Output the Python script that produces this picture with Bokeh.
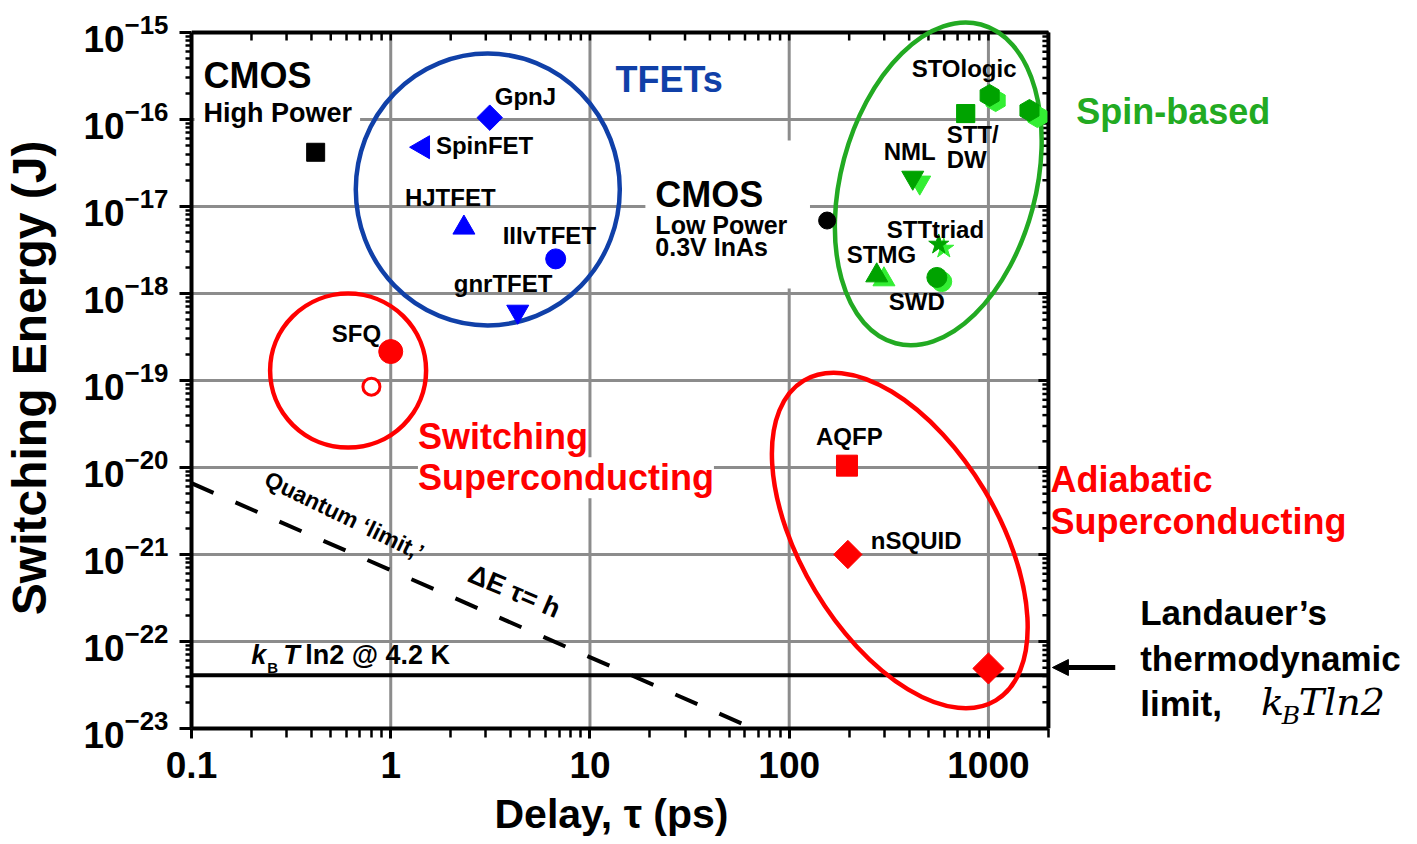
from bokeh.plotting import figure
from bokeh.models import (Range1d, FixedTicker, Label, Arrow, NormalHead, Title,
                          CustomJSTickFormatter, LogTickFormatter, ColumnDataSource)
from bokeh.embed import file_html
from bokeh.resources import INLINE

# ---------------- data ----------------
x_ticks = [0.1, 1, 10, 100, 1000]
y_exponents = [-15, -16, -17, -18, -19, -20, -21, -22, -23]
x_lim = [0.1, 2000]
y_lim = [1e-23, 1e-15]

cmos_delay = [0.42, 155]
cmos_energy = [4.2e-17, 6.9e-18]

tfet_names = ["GpnJ", "SpinFET", "HJTFET", "IIIvTFET", "gnrTFET"]
tfet_delay = [3.14, 1.45, 2.33, 6.73, 4.34]
tfet_energy = [1.05e-16, 4.8e-17, 5.7e-18, 2.5e-18, 6.2e-19]

sfq_delay = [1.0, 0.8]
sfq_energy = [2.15e-19, 8.5e-20]

adia_names = ["AQFP", "nSQUID", ""]
adia_delay = [195, 197, 1000]
adia_energy = [1.05e-20, 1.0e-21, 4.9e-23]

spin_names = ["STOlogic", "STT/", "", "NML", "STTtriad", "STMG", "SWD"]
spin_delay = [1014, 769, 1607, 417, 563, 275, 551]
spin_energy = [1.89e-16, 1.17e-16, 1.27e-16, 2.15e-17, 3.66e-18, 1.61e-18, 1.53e-18]
spin_delay_b = [1087, 769, 1762, 452, 597, 299, 583]
spin_energy_b = [1.65e-16, 1.17e-16, 1.08e-16, 1.89e-17, 3.29e-18, 1.45e-18, 1.37e-18]

quantum_delay = [0.1, 60]
quantum_energy = [6.6e-21, 1.1e-23]
kbt_delay = [0.1, 2000]
kbt_energy = [4.1e-23, 4.1e-23]

# group outlines (centres in data units)
grp_x = [3.07, 0.611, 560, 359]
grp_y = [1.57e-17, 1.30e-19, 1.82e-17, 1.45e-21]

# ---------------- styles ----------------
FONT = "Liberation Sans"
BLUE_M = "#0000ff"
BLUE_C = "#1040a8"
RED = "#ff0000"
GREEN_C = "#22aa22"
GREEN_D = "#00a300"
GREEN_B = "#33ee33"
GRID = "#8c8c8c"

grp_w = [264, 156, 330, 373]
grp_h = [272, 154, 195, 197]
grp_ang = [0, 0, 75, -59]
grp_col = [BLUE_C, RED, GREEN_C, RED]

tfet_marker = ["square", "triangle", "triangle", "circle", "inverted_triangle"]
tfet_size = [18, 23, 22, 20, 22]
tfet_angle = [45, 90, 0, 0, 0]
tfet_dx = [5, 13, -59, -53, -64]
tfet_dy = [14, -5, 23, 16, 21]

adia_marker = ["square", "square", "square"]
adia_size = [21, 20, 22]
adia_angle = [0, 45, 45]
adia_dx = [-31, 23, 0]
adia_dy = [22, 7, 0]

spin_marker = ["hex", "square", "hex", "inverted_triangle", "star", "triangle", "circle"]
spin_size = [22, 18, 22, 22, 21, 22, 20]
spin_angle = [90, 0, 90, 0, 0, 0, 0]
spin_dx = [-78, -19, 0, -29, -52, -30, -48]
spin_dy = [20, -28, 0, 19, 8, 14, -31]

# page geometry of the reference plot box
FX0, FX1, FY0, FY1 = 188, 1047, 32, 728
W, H = 1417, 844
PX_DEC_X = (FX1 - FX0) / 4.30103   # pixels per decade (x)
PX_DEC_Y = (FY1 - FY0) / 8.0        # pixels per decade (y)
BASE_FIX = 0.3                      # label baseline correction (fraction of font size)


def px2x(px):
    return 10 ** (-1 + (px - FX0) / PX_DEC_X)


def py2y(py):
    return 10 ** (-15 - (py - FY0) / PX_DEC_Y)


# frame extends to the right and top canvas edges so captions there are not clipped
p = figure(width=W, height=H, x_axis_type="log", y_axis_type="log", title=None,
           x_range=Range1d(0.1, px2x(W)), y_range=Range1d(1e-23, py2y(0)),
           output_backend="svg", toolbar_location=None,
           min_border_left=FX0, min_border_right=0, min_border_top=0,
           min_border_bottom=H - FY1)
p.background_fill_color = "white"
p.border_fill_color = "white"
p.outline_line_color = None
p.grid.visible = False

x_minor = [m * 10 ** e for e in range(-1, 4) for m in range(2, 10) if m * 10 ** e <= 2000]
y_major = [10.0 ** e for e in y_exponents]
y_minor = [m * 10.0 ** e for e in range(-23, -15) for m in range(2, 10)]
xticker = FixedTicker(ticks=x_ticks, minor_ticks=x_minor)
yticker = FixedTicker(ticks=y_major, minor_ticks=y_minor)

xa = p.xaxis[0]
ya = p.yaxis[0]
xa.ticker = xticker
ya.ticker = yticker
xa.bounds = (0.1, 2000)
ya.bounds = (1e-23, 1e-15)
xa.formatter = CustomJSTickFormatter(code="return tick.toString()")
ya.formatter = LogTickFormatter()
for ax in (xa, ya):
    ax.axis_line_width = 4
    ax.major_tick_line_width = 3
    ax.minor_tick_line_width = 2.5
    ax.major_tick_in = 0
    ax.minor_tick_in = 0
    ax.major_label_text_font = FONT
    ax.major_label_text_font_style = "bold"
    ax.major_label_text_font_size = "37px"
    ax.major_label_text_color = "black"
    ax.axis_label_text_font = FONT
    ax.axis_label_text_font_style = "bold"
    ax.axis_label_text_color = "black"
xa.major_tick_out = 10
xa.minor_tick_out = 9
xa.major_label_standoff = 13
ya.major_tick_out = 12
ya.minor_tick_out = 6
ya.major_label_standoff = 11
ya.axis_label = "Switching Energy (J)\u00a0\u00a0"
ya.axis_label_text_font_size = "48px"
ya.axis_label_standoff = 24

p.add_layout(Title(text="Delay, τ (ps)", align="left", offset=303, standoff=16,
                   text_font=FONT, text_font_size="41px", text_font_style="bold",
                   text_color="black"), "below")

# grid lines (limited to the plot box)
p.segment(x0=x_ticks[1:], x1=x_ticks[1:], y0=[y_lim[0]] * 4, y1=[y_lim[1]] * 4,
          line_color=GRID, line_width=3)
p.segment(x0=[x_lim[0]] * 9, x1=[x_lim[1]] * 9, y0=y_major, y1=y_major,
          line_color=GRID, line_width=3)

# top and right borders with inward ticks
p.segment(x0=[x_lim[0], x_lim[1]], x1=[x_lim[1], x_lim[1]], y0=[y_lim[1], y_lim[0]],
          y1=[y_lim[1], y_lim[1]], line_color="black", line_width=4)
p.ray(x=x_ticks + x_minor, y=[y_lim[1]] * (len(x_ticks) + len(x_minor)), length=8,
      length_units="screen", angle=-90, angle_units="deg", line_color="black", line_width=2.5)
p.ray(x=[x_lim[1]] * 9, y=y_major, length=10, length_units="screen", angle=180,
      angle_units="deg", line_color="black", line_width=3)
p.ray(x=[x_lim[1]] * len(y_minor), y=y_minor, length=6, length_units="screen", angle=180,
      angle_units="deg", line_color="black", line_width=2.5)

# white boxes behind the CMOS captions
for l_, r_, t_, b_ in ((191, 357, 110, 128), (643, 808, 140, 288)):
    p.quad(left=[px2x(l_)], right=[px2x(r_)], top=[py2y(t_)], bottom=[py2y(b_)],
           fill_color="white", line_alpha=0)

# lines
p.line(kbt_delay, kbt_energy, line_color="black", line_width=4)
p.line(quantum_delay, quantum_energy, line_color="black", line_width=4, line_dash="24 24")

# group ellipses
p.ellipse(x=grp_x, y=grp_y, width=grp_w, height=grp_h, angle=grp_ang, angle_units="deg",
          width_units="screen", height_units="screen", fill_alpha=0,
          line_color=grp_col, line_width=4.5)

# markers
p.scatter(cmos_delay[:1], cmos_energy[:1], marker="square", size=18, color="black")
p.scatter(cmos_delay[1:], cmos_energy[1:], marker="circle", size=17, color="black")

p.scatter(x="x", y="y", marker="m", size="s", angle="a", angle_units="deg", color=BLUE_M,
          source=ColumnDataSource(dict(x=tfet_delay, y=tfet_energy, m=tfet_marker,
                                       s=tfet_size, a=tfet_angle)))

p.scatter(sfq_delay[:1], sfq_energy[:1], marker="circle", size=24, color=RED)
p.scatter(sfq_delay[1:], sfq_energy[1:], marker="circle", size=17, fill_color="white",
          line_color=RED, line_width=3)

p.scatter(x="x", y="y", marker="m", size="s", angle="a", angle_units="deg", color=RED,
          source=ColumnDataSource(dict(x=adia_delay, y=adia_energy, m=adia_marker,
                                       s=adia_size, a=adia_angle)))

p.scatter(x="x", y="y", marker="m", size="s", angle="a", angle_units="deg", color=GREEN_B,
          source=ColumnDataSource(dict(x=spin_delay_b, y=spin_energy_b, m=spin_marker,
                                       s=spin_size, a=spin_angle)))
p.scatter(x="x", y="y", marker="m", size="s", angle="a", angle_units="deg", color=GREEN_D,
          source=ColumnDataSource(dict(x=spin_delay, y=spin_energy, m=spin_marker,
                                       s=spin_size, a=spin_angle)))


def lab(text, x, y, size, color="black", style="bold", font=FONT, align="left",
        dx=0, dy=0, angle=0, bg=None):
    kw = {}
    if bg is not None:
        kw["background_fill_color"] = bg
    p.add_layout(Label(x=x, y=y, text=text, x_offset=dx, y_offset=dy + BASE_FIX * size,
                       text_font=font, text_font_size=f"{size}px", text_font_style=style,
                       text_color=color, text_align=align, text_baseline="alphabetic",
                       angle=angle, angle_units="deg", **kw))


# point labels
for n, x, y, dx, dy in zip(tfet_names, tfet_delay, tfet_energy, tfet_dx, tfet_dy):
    lab(n, x, y, 24, dx=dx, dy=dy)
lab("SFQ", sfq_delay[0], sfq_energy[0], 24, dx=-59, dy=11)
for n, x, y, dx, dy in zip(adia_names, adia_delay, adia_energy, adia_dx, adia_dy):
    if n:
        lab(n, x, y, 24, dx=dx, dy=dy)
for n, x, y, dx, dy in zip(spin_names, spin_delay, spin_energy, spin_dx, spin_dy):
    if n:
        lab(n, x, y, 24, dx=dx, dy=dy)
lab("DW", spin_delay[1], spin_energy[1], 24, dx=-19, dy=-53)

# captions inside
lab("CMOS", px2x(200), py2y(86), 36)
lab("High Power", px2x(200), py2y(121), 27)
lab("CMOS", px2x(653), py2y(205), 36)
lab("Low Power", px2x(653), py2y(232), 25)
lab("0.3V InAs", px2x(653), py2y(254), 25)
lab("TFETs", px2x(613), py2y(90), 36, color=BLUE_C)
lab("Switching", px2x(415), py2y(447), 36, color=RED)
lab("Superconducting", px2x(415), py2y(488), 36, color=RED, bg="white")
lab("Quantum ‘limit,’", px2x(263), py2y(484), 23, angle=-26)
lab("ΔE τ= h", px2x(467), py2y(580), 27, angle=-23)
lab("k", px2x(248), py2y(663), 27, style="bold italic")
lab("B", px2x(264), py2y(671), 15)
lab("T", px2x(280), py2y(663), 27, style="bold italic")
lab("ln2 @ 4.2 K", px2x(302), py2y(663), 27)

# captions at the right
lab("Spin-based", px2x(1075), py2y(122), 36, color=GREEN_C)
lab("Adiabatic", px2x(1049), py2y(490), 36, color=RED)
lab("Superconducting", px2x(1049), py2y(532), 36, color=RED)
lab("Landauer’s", px2x(1139), py2y(622), 35)
lab("thermodynamic", px2x(1139), py2y(668), 35)
lab("limit,", px2x(1139), py2y(713), 35)
lab("k", px2x(1260), py2y(713), 38, style="italic", font="DejaVu Serif")
lab("B", px2x(1281), py2y(722), 25, style="italic", font="DejaVu Serif")
lab("Tln2", px2x(1298), py2y(713), 38, style="italic", font="DejaVu Serif")

p.add_layout(Arrow(end=NormalHead(size=16, fill_color="black", line_color="black"),
                   x_start=px2x(1114), y_start=py2y(667), x_end=px2x(1051), y_end=py2y(667),
                   line_color="black", line_width=5))

open("out.html", "w").write(file_html(p, INLINE))
